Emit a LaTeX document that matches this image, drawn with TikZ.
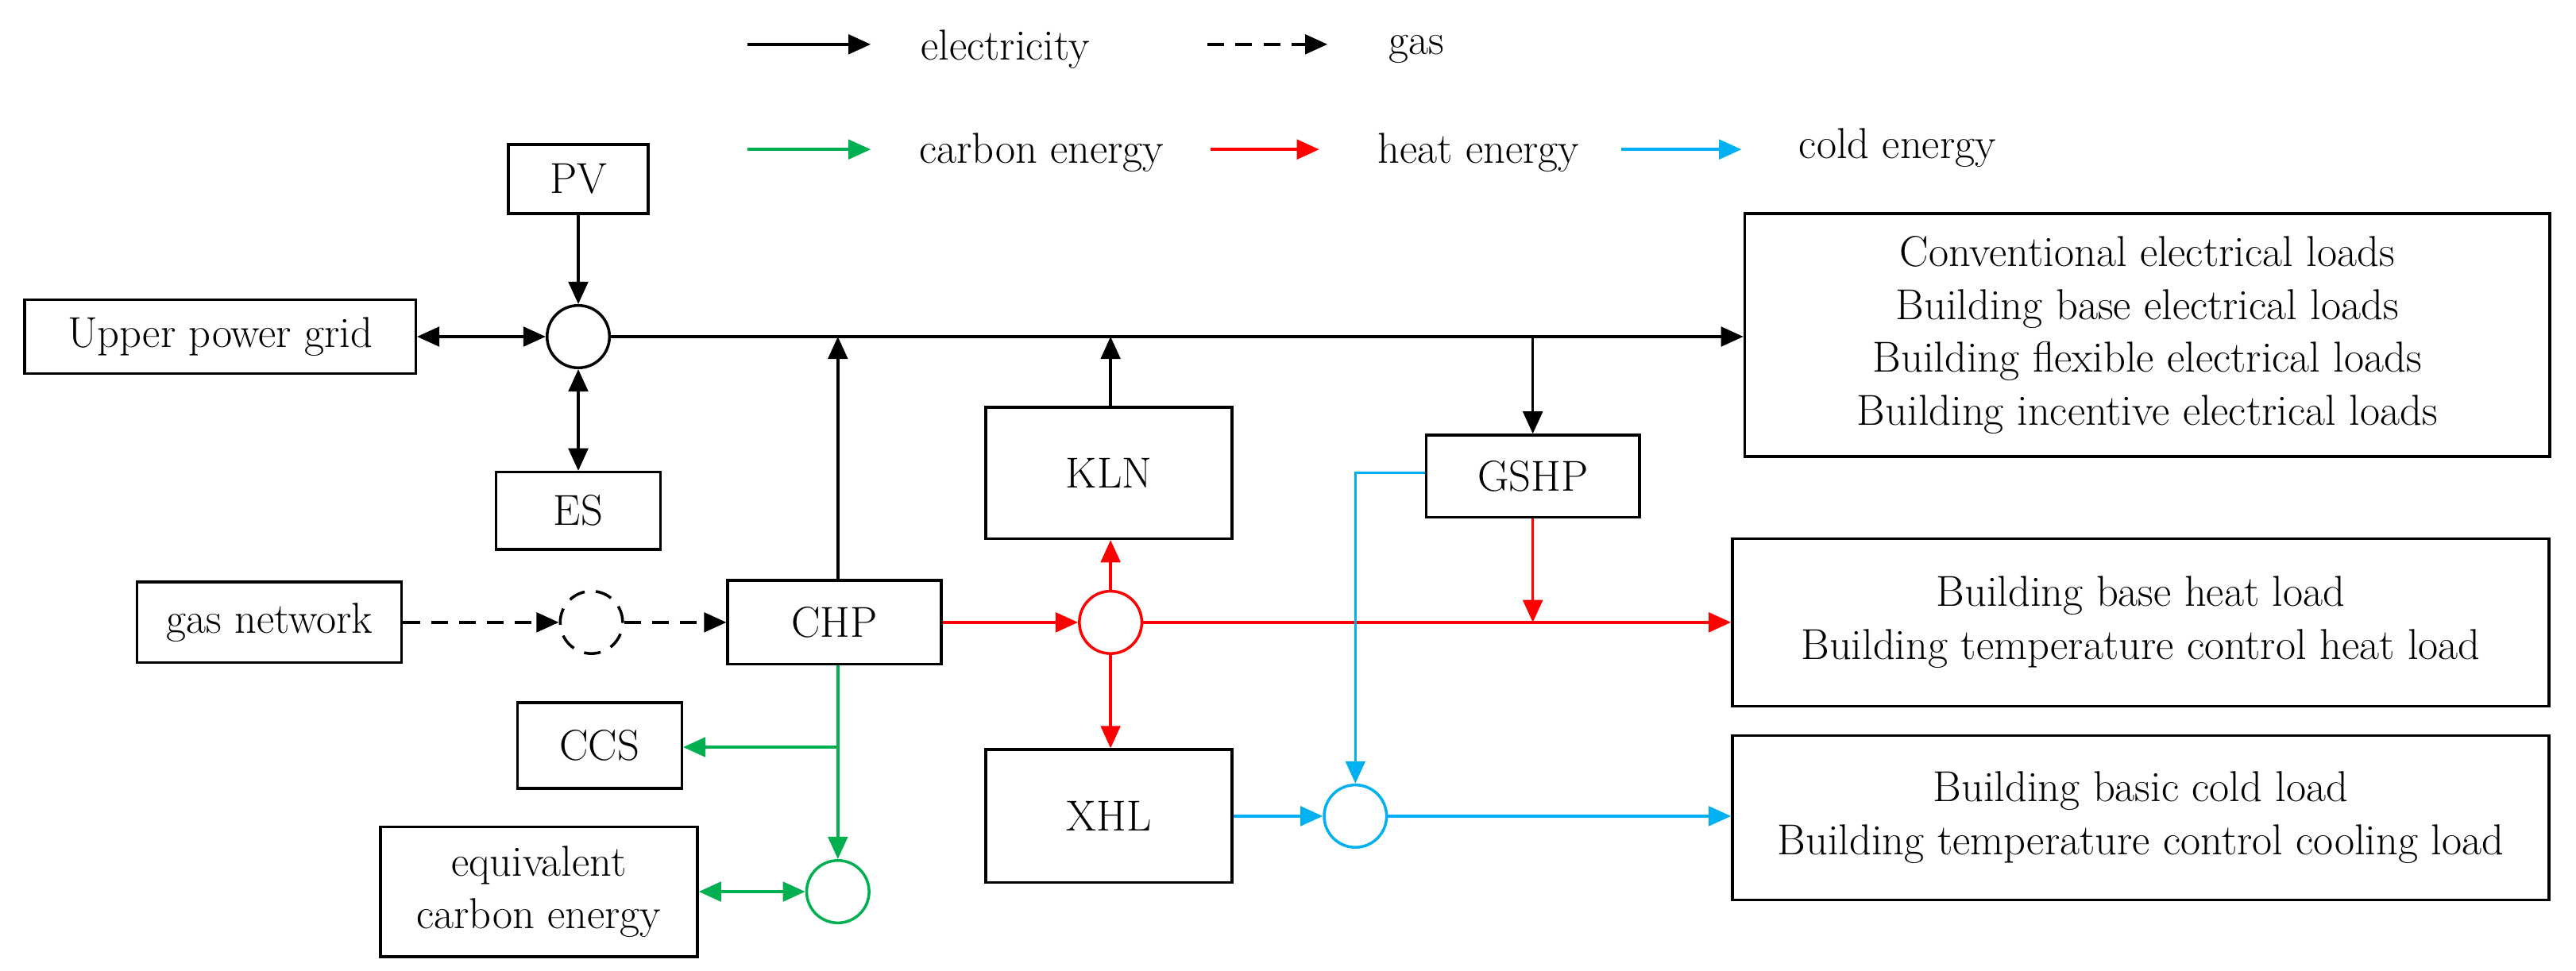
\documentclass[tikz,border=0pt]{standalone}
\usetikzlibrary{arrows.meta}
\definecolor{cgreen}{RGB}{0,176,80}
\definecolor{cred}{RGB}{255,0,0}
\definecolor{cblue}{RGB}{0,176,240}
\begin{document}
\begin{tikzpicture}[x=0.02068cm,y=-0.02068cm,
  font=\fontsize{15.5}{19}\selectfont,
  box/.style={draw,line width=1pt,inner sep=0pt,align=center},
  jn/.style={draw,circle,line width=1pt,minimum size=38*0.02068cm,inner sep=0pt},
  ar/.style={line width=1pt,-{Triangle[length=8pt,width=7pt]}},
  dar/.style={line width=1pt,{Triangle[length=8pt,width=7pt]}-{Triangle[length=8pt,width=7pt]}},
  dsh/.style={dash pattern=on 6pt off 4pt}]
\useasboundingbox (0,0) rectangle (1568,591);
% legend
\coordinate (l1a) at (455,27); \coordinate (l1b) at (530,27);
\draw[ar] (l1a) -- (l1b); \node (t1) at (612,30) {electricity};
\coordinate (l2a) at (735,27); \coordinate (l2b) at (808,27);
\draw[ar,dsh] (l2a) -- (l2b); \node (t2) at (862,30) {gas};
\coordinate (l3a) at (455,91); \coordinate (l3b) at (530,91);
\draw[ar,cgreen] (l3a) -- (l3b); \node (t3) at (634,93) {carbon energy};
\coordinate (l4a) at (737,91); \coordinate (l4b) at (803,91);
\draw[ar,cred] (l4a) -- (l4b); \node (t4) at (900,93) {heat energy};
\coordinate (l5a) at (987,91); \coordinate (l5b) at (1060,91);
\draw[ar,cblue] (l5a) -- (l5b); \node (t5) at (1155,90) {cold energy};
% boxes
\node[box,minimum width=85*0.02068cm,minimum height=42*0.02068cm] (pv) at (352,109) {PV};
\node[box,minimum width=238*0.02068cm,minimum height=45*0.02068cm] (grid) at (134,205) {Upper power grid};
\node[box,minimum width=100*0.02068cm,minimum height=47*0.02068cm] (es) at (352,311) {ES};
\node[box,minimum width=490*0.02068cm,minimum height=148*0.02068cm] (eload) at (1307,204) {Conventional electrical loads\\Building base electrical loads\\Building flexible electrical loads\\Building incentive electrical loads};
\node[box,minimum width=130*0.02068cm,minimum height=51*0.02068cm] (chp) at (508,379) {CHP};
\node[box,minimum width=150*0.02068cm,minimum height=80*0.02068cm] (kln) at (675,288) {KLN};
\node[box,minimum width=130*0.02068cm,minimum height=50*0.02068cm] (gshp) at (933,290) {GSHP};
\node[box,minimum width=161*0.02068cm,minimum height=49*0.02068cm] (gas) at (164,379) {gas network};
\node[box,minimum width=497*0.02068cm,minimum height=102*0.02068cm] (hload) at (1303,379) {Building base heat load\\Building temperature control heat load};
\node[box,minimum width=150*0.02068cm,minimum height=81*0.02068cm] (xhl) at (675,497) {XHL};
\node[box,minimum width=497*0.02068cm,minimum height=100*0.02068cm] (cload) at (1303,498) {Building basic cold load\\Building temperature control cooling load};
\node[box,minimum width=100*0.02068cm,minimum height=52*0.02068cm] (ccs) at (365,454) {CCS};
\node[box,minimum width=193*0.02068cm,minimum height=79*0.02068cm] (eqc) at (328,543) {equivalent\\carbon energy};
% junctions
\node[jn] (je) at (352,205) {};
\node[jn,dsh] (jg) at (360,379) {};
\node[jn,cred] (jh) at (676,379) {};
\node[jn,cblue] (jc) at (825,497) {};
\node[jn,cgreen] (jgr) at (510,543) {};
% electricity
\draw[ar] (pv) -- (je);
\draw[dar] (grid) -- (je);
\draw[dar] (es) -- (je);
\draw[ar] (je) -- (eload.west |- je);
\draw[ar] (chp.north -| 510,0) -- (510,205);
\draw[ar] (kln.north -| 676,0) -- (676,205);
\draw[ar] (933,205) -- (gshp.north);
% gas
\draw[ar,dsh] (gas) -- (jg);
\draw[ar,dsh] (jg) -- (chp);
% heat
\draw[ar,cred] (chp) -- (jh);
\draw[ar,cred] (jh) -- (hload.west |- jh);
\draw[ar,cred] (jh) -- (kln.south -| jh);
\draw[ar,cred] (jh) -- (xhl.north -| jh);
\draw[ar,cred] (gshp.south) -- (933,379);
% cold
\draw[ar,cblue] (gshp.west |- 0,288) -- (825,288) -- (jc);
\draw[ar,cblue] (xhl) -- (jc);
\draw[ar,cblue] (jc) -- (cload.west |- jc);
% carbon
\draw[ar,cgreen] (chp.south -| jgr) -- (jgr);
\draw[ar,cgreen] (510,455) -- (ccs.east |- 0,455);
\draw[dar,cgreen] (eqc.east |- jgr) -- (jgr);
\end{tikzpicture}
\end{document}
